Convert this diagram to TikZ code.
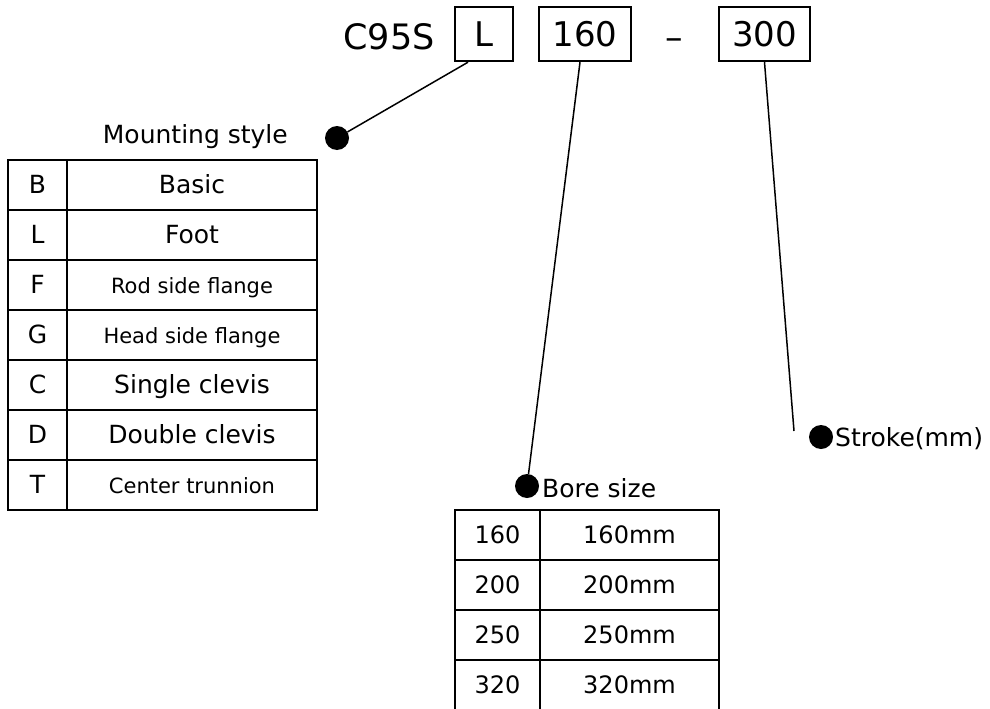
\documentclass[tikz,border=0pt]{standalone}
\usepackage{fontspec}
\setmainfont{DejaVu Sans}
\usetikzlibrary{calc}

\begin{document}
\begin{tikzpicture}[x=1pt,y=-1pt,
    codebox/.style={draw,line width=2.4pt,inner sep=0pt,minimum height=54pt,font=\fontsize{34}{40}\selectfont},
    cell/.style={draw,line width=2.4pt,inner sep=0pt,minimum height=50pt,text height=17pt,text depth=0pt},
    headtext/.style={inner sep=0pt,font=\fontsize{25}{30}\selectfont},
    leader/.style={line width=1.5pt},
    bigdot/.style={circle,fill,inner sep=0pt,minimum size=24pt}]
        \useasboundingbox (0,0) rectangle (990,709);
        % model code
        \node[font=\fontsize{35}{42}\selectfont] (model) at (389,37) {C95S};
        \node[codebox,minimum width=58pt] (mount) at (484,34) {L};
        \node[codebox,minimum width=92pt] (bore) at (585,34) {160};
        \node[font=\fontsize{35}{42}\selectfont] (dash) at (674,44) {–};
        \node[codebox,minimum width=91pt] (stroke) at (764.5,34) {300};
        % headings
        \node[bigdot] (mdot) at (337,138) {};
        \node[headtext,anchor=base east] (mtitle) at (288,143) {Mounting style};
        \node[bigdot] (bdot) at (527,486) {};
        \node[headtext,anchor=base west] (btitle) at (542,497) {Bore size};
        \node[bigdot] (sdot) at (821,437) {};
        \node[headtext,anchor=base west] (stitle) at (835,446) {Stroke(mm)};
        % mounting table
        \foreach \code/\name/\sz [count=\i] in {B/Basic/25,L/Foot/25,F/Rod side flange/21,G/Head side flange/21,C/Single clevis/25,D/Double clevis/25,T/Center trunnion/21}{
          \node[cell,minimum width=59pt,font=\fontsize{25}{30}\selectfont] (mc\i) at (37.5,135+50*\i) {\code};
          \node[cell,minimum width=250pt,font=\fontsize{\sz}{30}\selectfont] (mn\i) at (192,135+50*\i) {\name};
        }
        % bore table
        \foreach \v [count=\i] in {160,200,250,320}{
          \node[cell,minimum width=85pt,font=\fontsize{24}{28}\selectfont] (bc\i) at (497.5,485+50*\i) {\v};
          \node[cell,minimum width=179pt,font=\fontsize{24}{28}\selectfont] (bn\i) at (629.5,485+50*\i) {\v mm};
        }
        % leaders
        \coordinate (strokeend) at ($(sdot)+(-27,-6)$);
        \draw[leader] ([xshift=-16pt]mount.south) -- (mdot);
        \draw[leader] ([xshift=-5pt]bore.south) -- (bdot);
        \draw[leader] (stroke.south) -- (strokeend);
\end{tikzpicture}
\end{document}
